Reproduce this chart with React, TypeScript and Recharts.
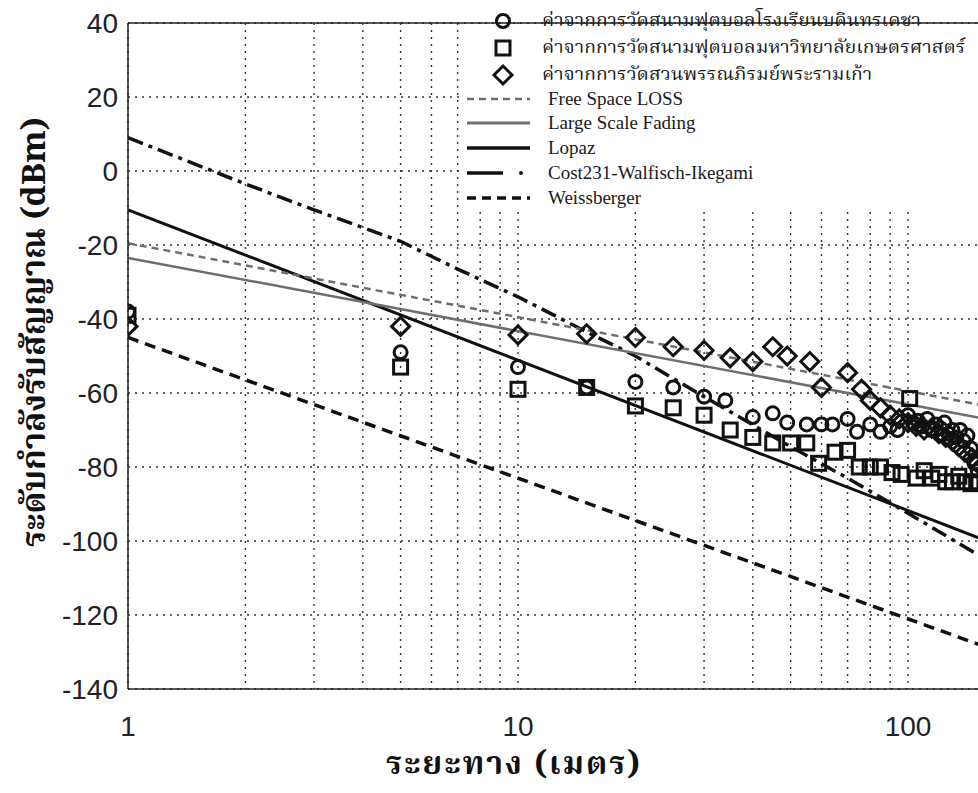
import React from 'react';
import {
  ComposedChart, Line, Scatter, XAxis, YAxis, CartesianGrid, ReferenceLine,
} from 'recharts';

// ---- data (distance in metres, received level in dBm) ----
const circleDist = [1, 5, 10, 15, 20, 25, 30, 34, 40, 45, 49, 55, 60, 64, 70, 74, 80, 85, 90, 94, 100, 103, 106, 109, 112, 115, 118, 121, 124, 127, 130, 133, 136, 139, 142, 145, 148, 151];
const circleVals = [-38, -49, -53, -58.5, -57, -58.5, -61, -62, -66.5, -65.5, -68, -68.5, -68.5, -68.5, -67, -70.5, -68.5, -70.5, -69, -70, -66, -68, -67.5, -69, -67, -70, -68.5, -69.5, -68, -71, -70, -72, -70, -73, -71.5, -75, -79, -81];

const squareDist = [1, 5, 10, 15, 20, 25, 30, 35, 40, 45, 50, 55, 59, 65, 70, 75, 80, 85, 91, 96, 101, 105, 110, 115, 120, 125, 130, 135, 140, 145, 150];
const squareVals = [-39, -53, -59, -58.5, -63.5, -64, -66, -70, -72, -73.5, -73.5, -73.5, -79, -76, -75.5, -80, -80, -80, -81.5, -82, -61.5, -83, -81, -83, -82, -84, -84, -82.5, -84, -84.5, -84];

const diamondDist = [1, 5, 10, 15, 20, 25, 30, 35, 40, 45, 49, 56, 60, 70, 76, 80, 85, 90, 95, 100, 105, 110, 115, 120, 125, 130, 135, 140, 146, 151];
const diamondVals = [-42, -42, -44.3, -44, -45, -47.5, -48.5, -50.5, -51.5, -47.5, -50, -51.5, -58.5, -54.5, -59, -62, -64, -66, -67, -68, -69, -70, -69.5, -71, -72, -73, -74.5, -76, -77.5, -79];

const modelDist = [1, 200];
const freeSpaceVals = [-19.5, -65.5];
const largeScaleVals = [-23.5, -69];
const lopazVals = [-10.5, -104];
const weissbergerVals = [-45, -132.5];

const costDist = [1, 2, 3, 5, 7, 10, 15, 20, 30, 50, 70, 100, 150, 200];
const costVals = [9, -3.5, -10.5, -19, -26.5, -34, -43.5, -50, -61, -74.5, -83, -92.5, -103.5, -111];

const xTicks = [1, 2, 3, 4, 5, 6, 7, 8, 9, 10, 20, 30, 40, 50, 60, 70, 80, 90, 100, 200, 300, 400, 500, 600, 700, 800, 900, 1000];
const xLabelTicks = [1, 10, 100];
const yTicks = [-140, -120, -100, -80, -60, -40, -20, 0, 20, 40];

const legendLabels = [
  'ค่าจากการวัดสนามฟุตบอลโรงเรียนบดินทรเดชา',
  'ค่าจากการวัดสนามฟุตบอลมหาวิทยาลัยเกษตรศาสตร์',
  'ค่าจากการวัดสวนพรรณภิรมย์พระรามเก้า',
  'Free Space LOSS',
  'Large Scale Fading',
  'Lopaz',
  'Cost231-Walfisch-Ikegami',
  'Weissberger',
];
const yTitle = 'ระดับกำลังรับสัญญาณ (dBm)';
const xTitle = 'ระยะทาง (เมตร)';

const zip = (xs: number[], ys: number[]) => xs.map((d, i) => ({ d, v: ys[i] }));

const circleData = zip(circleDist, circleVals);
const squareData = zip(squareDist, squareVals);
const diamondData = zip(diamondDist, diamondVals);
const freeSpaceData = zip(modelDist, freeSpaceVals);
const largeScaleData = zip(modelDist, largeScaleVals);
const lopazData = zip(modelDist, lopazVals);
const weissData = zip(modelDist, weissbergerVals);
const costData = zip(costDist, costVals);

const INK = '#111';
const GRAY = '#6e6e6e';
const THAI = "'Noto Serif Thai', Norasi, Kinnari, 'Noto Sans Thai', Garuda, Loma, 'Noto Sans', serif";
const NUM_FONT = "'Liberation Sans', Arial, sans-serif";

const CircleShape = (p: any) => (
  <circle cx={p.cx} cy={p.cy} r={6.5} fill="none" stroke={INK} strokeWidth={3} />
);
const SquareShape = (p: any) => (
  <rect x={p.cx - 7} y={p.cy - 7} width={14} height={14} fill="none" stroke={INK} strokeWidth={3} />
);
const DiamondShape = (p: any) => (
  <path d={`M${p.cx},${p.cy - 9}L${p.cx + 9},${p.cy}L${p.cx},${p.cy + 9}L${p.cx - 9},${p.cy}Z`} fill="none" stroke={INK} strokeWidth={3} />
);

const XTick = (p: any) => {
  const v = p.payload.value;
  if (!xLabelTicks.includes(v)) return null;
  return (
    <text x={p.x} y={p.y} dy="0.71em" textAnchor="middle" fontSize={28} fill="#222" fontFamily={NUM_FONT}>
      {v}
    </text>
  );
};

const legendStyles = [
  { kind: 'circle' },
  { kind: 'square' },
  { kind: 'diamond' },
  { kind: 'line', stroke: GRAY, dash: '7 5', width: 2.5 },
  { kind: 'line', stroke: GRAY, dash: undefined, width: 3 },
  { kind: 'line', stroke: INK, dash: undefined, width: 3.5 },
  { kind: 'cost', stroke: INK, width: 3.5 },
  { kind: 'line', stroke: INK, dash: '9 6', width: 3.5 },
];
const legendRowY = [21, 48, 75, 99, 123, 148, 173, 198];

function Legend() {
  return (
    <>
      <div style={{ position: 'absolute', left: 460, top: 24, width: 530, height: 188, background: '#fff' }} />
      {legendLabels.map((label, i) => {
        const st: any = legendStyles[i];
        const cy = legendRowY[i];
        const thai = i < 3;
        return (
          <React.Fragment key={i}>
            <svg style={{ position: 'absolute', left: 458, top: cy - 12 }} width={80} height={24}>
              {st.kind === 'circle' && <CircleShape cx={45} cy={12} />}
              {st.kind === 'square' && <SquareShape cx={45} cy={12} />}
              {st.kind === 'diamond' && <DiamondShape cx={45} cy={12} />}
              {st.kind === 'line' && (
                <line x1={9} x2={72} y1={12} y2={12} stroke={st.stroke} strokeWidth={st.width} strokeDasharray={st.dash} />
              )}
              {st.kind === 'cost' && (
                <g>
                  <line x1={9} x2={45} y1={12} y2={12} stroke={st.stroke} strokeWidth={st.width} />
                  <circle cx={63} cy={12} r={2} fill={INK} />
                </g>
              )}
            </svg>
            <div
              style={{
                position: 'absolute', left: thai ? 542 : 548, top: cy - 12, height: 24, lineHeight: '24px',
                whiteSpace: 'nowrap', color: '#1a1a1a',
                fontFamily: thai ? THAI : "'Liberation Serif', 'Times New Roman', serif",
                fontSize: thai ? 17.5 : 19,
                transform: thai ? 'scaleX(1.1)' : undefined,
                transformOrigin: 'left center',
              }}
            >
              {label}
            </div>
          </React.Fragment>
        );
      })}
    </>
  );
}

export default function App() {
  return (
    <div style={{ position: 'absolute', left: 0, top: 0, width: 978, height: 793, overflow: 'hidden', background: '#fff' }}>
      <ComposedChart
        width={1320}
        height={793}
        margin={{ top: 23, right: 22, bottom: 0, left: 0 }}
        style={{ position: 'absolute', left: 0, top: 0 }}
      >
        <CartesianGrid stroke="#333" strokeDasharray="2 5" strokeWidth={1.4} />
        <XAxis
          type="number"
          dataKey="d"
          scale="log"
          domain={[1, 1000]}
          allowDataOverflow
          ticks={xTicks}
          interval={0}
          height={104}
          tickSize={0}
          tickMargin={27}
          tick={XTick}
          axisLine={{ stroke: '#222', strokeWidth: 1.5 }}
        />
        <YAxis
          type="number"
          dataKey="v"
          domain={[-140, 40]}
          allowDataOverflow
          ticks={yTicks}
          interval={0}
          width={128}
          tickSize={0}
          tickMargin={10}
          tick={{ fontSize: 28, fill: '#222', fontFamily: NUM_FONT }}
          axisLine={{ stroke: '#222', strokeWidth: 1.5 }}
        />
        <ReferenceLine y={40} stroke="#222" strokeWidth={1.5} />
        <Line data={weissData} dataKey="v" type="linear" stroke={INK} strokeWidth={3.5} strokeDasharray="11 7" dot={false} isAnimationActive={false} />
        <Line data={lopazData} dataKey="v" type="linear" stroke={INK} strokeWidth={3} dot={false} isAnimationActive={false} />
        <Line data={costData} dataKey="v" type="linear" stroke={INK} strokeWidth={3.5} strokeDasharray="16 6 4 6" dot={false} isAnimationActive={false} />
        <Line data={largeScaleData} dataKey="v" type="linear" stroke={GRAY} strokeWidth={2.5} dot={false} isAnimationActive={false} />
        <Line data={freeSpaceData} dataKey="v" type="linear" stroke={GRAY} strokeWidth={2.5} strokeDasharray="7 5" dot={false} isAnimationActive={false} />
        <Scatter data={circleData} dataKey="v" shape={CircleShape} isAnimationActive={false} />
        <Scatter data={squareData} dataKey="v" shape={SquareShape} isAnimationActive={false} />
        <Scatter data={diamondData} dataKey="v" shape={DiamondShape} isAnimationActive={false} />
      </ComposedChart>
      <Legend />
      <div
        style={{
          position: 'absolute', left: 36, top: 332, transform: 'translate(-50%, -50%) rotate(-90deg)',
          whiteSpace: 'nowrap', fontFamily: THAI, fontWeight: 700, fontSize: 33, lineHeight: 1, color: '#111',
        }}
      >
        {yTitle}
      </div>
      <div
        style={{
          position: 'absolute', left: 514, top: 766, transform: 'translate(-50%, -50%)',
          whiteSpace: 'nowrap', fontFamily: THAI, fontWeight: 700, fontSize: 32, letterSpacing: 2, lineHeight: 1, color: '#111',
        }}
      >
        {xTitle}
      </div>
    </div>
  );
}
